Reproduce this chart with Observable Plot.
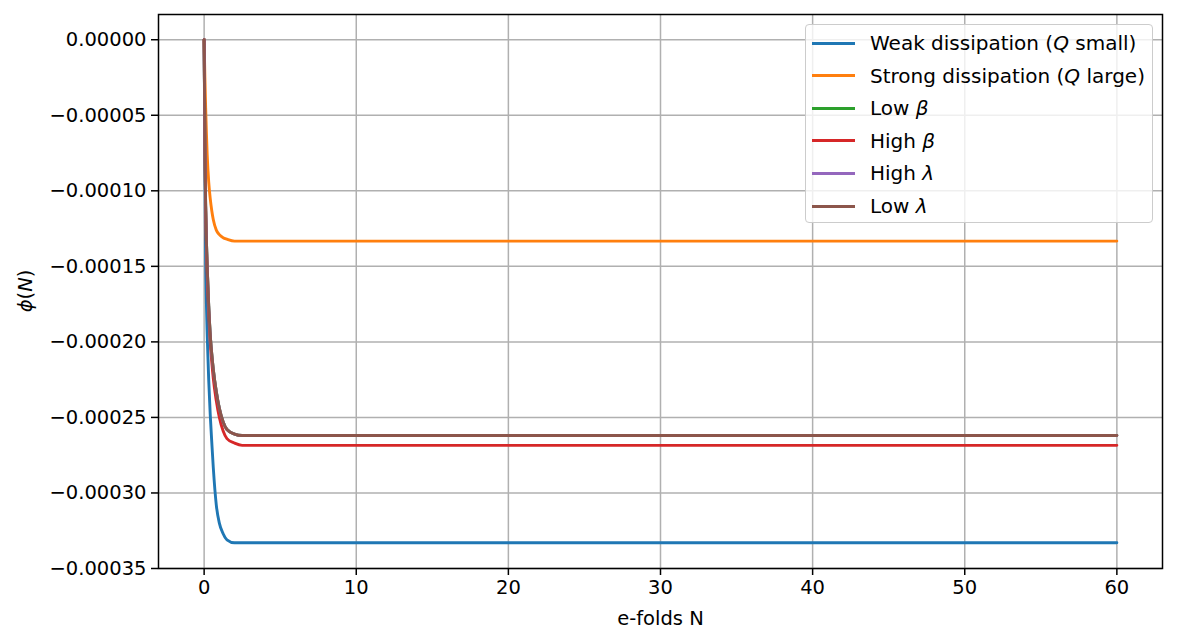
<!DOCTYPE html>
<html>
<head>
<meta charset="utf-8">
<script src="https://cdn.jsdelivr.net/npm/d3@7"></script>
<script src="https://cdn.jsdelivr.net/npm/@observablehq/plot@0.6"></script>
<style>
  body { margin: 0; background: white; }
  #wrap { position: relative; width: 1177px; height: 643px; font-family: "DejaVu Sans", sans-serif; }
  #legend { position: absolute; left: 805px; top: 24px; width: 348px; height: 199px; box-sizing: border-box;
            border: 1.4px solid #cccccc; border-radius: 4px; background: rgba(255,255,255,0.8); }
  .row { position: absolute; left: 0; height: 30px; display: flex; align-items: center; font-size: 20px; color: #000; white-space: nowrap; }
  .sw { display: inline-block; width: 43px; height: 3px; margin-left: 6px; margin-right: 15px; }
  #ylab { position: absolute; left: 25px; top: 291px; transform: translate(-50%, -50%) rotate(-90deg); font-size: 19.5px; white-space: nowrap; }
</style>
</head>
<body>
<div id="wrap"></div>
<script>
const efolds = [0, 0.05, 0.1, 0.15, 0.2, 0.3, 0.4, 0.5, 0.6, 0.8, 1.0, 1.25, 1.5, 2.0, 2.5, 3, 4, 60];

const weakQ     = [0, -0.00008, -0.000145, -0.000175, -0.000195, -0.000225, -0.000248, -0.000266, -0.000283, -0.000308, -0.00032, -0.000327, -0.000331, -0.000333, -0.000333, -0.000333, -0.000333, -0.000333];
const strongQ   = [0, -0.000025, -0.000045, -0.000062, -0.000076, -0.000094, -0.000105, -0.000113, -0.000119, -0.000126, -0.000129, -0.000131, -0.000132, -0.0001333, -0.0001333, -0.0001333, -0.0001333, -0.0001333];
const lowBeta   = [0, -0.000068, -0.00011, -0.000133, -0.00015, -0.000176, -0.000195, -0.000208, -0.000218, -0.000233, -0.000244, -0.000253, -0.000258, -0.000261, -0.000262, -0.000262, -0.000262, -0.000262];
const highBeta  = [0, -0.00007, -0.000113, -0.000137, -0.000155, -0.000181, -0.0002, -0.000213, -0.000224, -0.000239, -0.00025, -0.000259, -0.000264, -0.000267, -0.0002685, -0.0002685, -0.0002685, -0.0002685];
const highLam   = [0, -0.000068, -0.00011, -0.000133, -0.00015, -0.000176, -0.000195, -0.000208, -0.000218, -0.000233, -0.000244, -0.000253, -0.000258, -0.000261, -0.000262, -0.000262, -0.000262, -0.000262];
const lowLam    = [0, -0.000068, -0.00011, -0.000133, -0.00015, -0.000176, -0.000195, -0.000208, -0.000218, -0.000233, -0.000244, -0.000253, -0.000258, -0.000261, -0.000262, -0.000262, -0.000262, -0.000262];

const seriesNames  = ["Weak dissipation (<i>Q</i> small)", "Strong dissipation (<i>Q</i> large)", "Low <i>β</i>", "High <i>β</i>", "High <i>λ</i>", "Low <i>λ</i>"];
const seriesValues = [weakQ, strongQ, lowBeta, highBeta, highLam, lowLam];
const seriesColors = ["#1f77b4", "#ff7f0e", "#2ca02c", "#d62728", "#9467bd", "#8c564b"];

const xTicks = [0, 10, 20, 30, 40, 50, 60];
const yTicks = [0, -0.00005, -0.0001, -0.00015, -0.0002, -0.00025, -0.0003, -0.00035];

const fmt = d => (Math.abs(d) < 1e-12 ? "0.00000" : d.toFixed(5).replace("-", "\u2212"));

const lineMarks = seriesValues.map((vals, i) =>
  Plot.line(efolds.map((n, j) => ({n, v: vals[j]})), {
    x: "n", y: "v", stroke: seriesColors[i], strokeWidth: 2.9, curve: "monotone-x"
  })
);

const chart = Plot.plot({
  width: 1177, height: 643,
  marginLeft: 158, marginRight: 15, marginTop: 14, marginBottom: 75,
  style: { fontFamily: "DejaVu Sans", fontSize: "19.5px", color: "black", background: "white", overflow: "visible" },
  x: { domain: [-3, 63] },
  y: { domain: [-0.00035, 0.0000167] },
  marks: [
    Plot.gridX(xTicks, { stroke: "#b0b0b0", strokeOpacity: 1, strokeWidth: 1.5 }),
    Plot.gridY(yTicks, { stroke: "#b0b0b0", strokeOpacity: 1, strokeWidth: 1.5 }),
    ...lineMarks,
    Plot.frame({ stroke: "black", strokeWidth: 1.5 }),
    Plot.axisX(xTicks, { tickSize: 7, tickPadding: 5, strokeWidth: 1.5, fontSize: 19.5, tickFormat: d => String(d),
      label: "e-folds N", labelAnchor: "center", labelArrow: "none", labelOffset: 56 }),
    Plot.axisY(yTicks, { tickSize: 7, tickPadding: 5, strokeWidth: 1.5, fontSize: 19.5, tickFormat: fmt, label: null })
  ]
});

const wrap = document.getElementById("wrap");
wrap.appendChild(chart);

const ylab = document.createElement("div");
ylab.id = "ylab";
ylab.innerHTML = "<i>ϕ</i>(<i>N</i>)";
wrap.appendChild(ylab);

const legend = document.createElement("div");
legend.id = "legend";
seriesNames.forEach((name, i) => {
  const row = document.createElement("div");
  row.className = "row";
  row.style.top = (18 - 15 + i * 32.6) + "px";
  row.innerHTML = `<span class="sw" style="background:${seriesColors[i]}"></span><span>${name}</span>`;
  legend.appendChild(row);
});
wrap.appendChild(legend);
</script>
</body>
</html>
